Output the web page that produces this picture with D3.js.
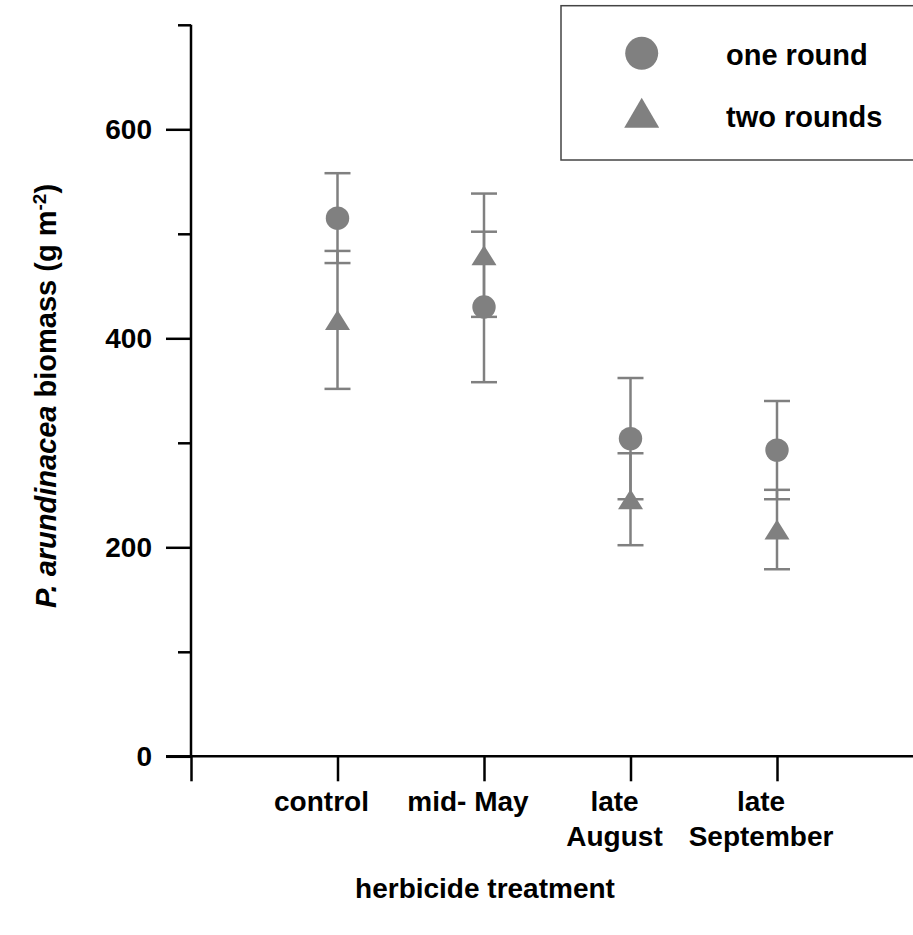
<!DOCTYPE html>
<html>
<head>
<meta charset="utf-8">
<script src="https://cdn.jsdelivr.net/npm/d3@7"></script>
<style>
  body { margin: 0; background: #fff; }
  text { font-family: "Liberation Sans", Arial, sans-serif; font-weight: bold; fill: #000; }
</style>
</head>
<body>
<div id="chart"></div>
<script>
// data
var categories = ["control", "mid- May", "late August", "late September"];
var labelLines = [["control"], ["mid- May"], ["late", "August"], ["late", "September"]];
var oneRound = [515, 430, 304, 293];
var oneRoundErr = [43, 72, 58, 47];
var twoRounds = [417.6, 479.5, 246, 217];
var twoRoundsErr = [66, 59, 44, 38];
var majorTicks = [0, 200, 400, 600];
var minorTicks = [100, 300, 500, 700];

var svgWidth = 913;
var svgHeight = 935;
var grey = "#808080";

var svg = d3.select("#chart")
    .append("svg")
    .attr("width", svgWidth)
    .attr("height", svgHeight);

var x = d3.scaleLinear().domain([0, 5]).range([191, 923.5]);
var y = d3.scaleLinear().domain([0, 700]).range([756.3, 24.8]);

// axes
var yAxis = svg.append("g")
    .attr("transform", "translate(" + x(0) + ",0)")
    .call(d3.axisLeft(y).tickValues(majorTicks).tickSize(25).tickPadding(14).tickFormat(d3.format("d")));
var yMinor = svg.append("g")
    .attr("transform", "translate(" + x(0) + ",0)")
    .call(d3.axisLeft(y).tickValues(minorTicks).tickSize(13).tickFormat(""));
var xAxis = svg.append("g")
    .attr("transform", "translate(0," + y(0) + ")")
    .call(d3.axisBottom(x).tickValues([0, 1, 2, 3, 4, 5]).tickSize(25).tickFormat(""));

[yAxis, yMinor, xAxis].forEach(function(g) {
    g.selectAll("path.domain").attr("stroke", "#000").attr("stroke-width", 2.5);
    g.selectAll(".tick line").attr("stroke", "#000").attr("stroke-width", 2.5);
});
yAxis.select("path.domain").remove();
yMinor.select("path.domain").attr("d", "M0," + y(700) + "V" + y(0));
xAxis.select("path.domain").attr("d", "M" + (x(0) - 25) + ",0H" + x(5));
yAxis.selectAll(".tick text")
    .style("font-family", "'Liberation Sans', Arial, sans-serif")
    .style("font-weight", "bold")
    .style("font-size", "28px")
    .attr("fill", "#000");

// category labels
var catLabels = svg.append("g").selectAll("text")
    .data(labelLines)
    .enter()
    .append("text")
    .attr("text-anchor", "middle")
    .style("font-size", "28px");
catLabels.each(function(lines, i) {
    var t = d3.select(this);
    lines.forEach(function(line, j) {
        t.append("tspan")
            .attr("x", x(i + 1) - 16)
            .attr("y", 811 + j * 35)
            .text(line);
    });
});

// axis titles
svg.append("text")
    .attr("x", 485)
    .attr("y", 898)
    .attr("text-anchor", "middle")
    .style("font-size", "28px")
    .text("herbicide treatment");

var yTitle = svg.append("text")
    .attr("transform", "translate(56,396) rotate(-90)")
    .attr("text-anchor", "middle")
    .style("font-size", "29px");
yTitle.append("tspan").style("font-style", "italic").text("P. arundinacea");
yTitle.append("tspan").text(" biomass (g m");
yTitle.append("tspan").attr("dy", -10).style("font-size", "19px").text("-2");
yTitle.append("tspan").attr("dy", 10).text(")");

// error bars
function drawErrors(vals, errs) {
    var g = svg.append("g").attr("stroke", grey).attr("stroke-width", 2.5);
    vals.forEach(function(v, i) {
        var cx = x(i + 1);
        g.append("line").attr("x1", cx).attr("x2", cx).attr("y1", y(v + errs[i])).attr("y2", y(v - errs[i]));
        [v + errs[i], v - errs[i]].forEach(function(e) {
            g.append("line").attr("x1", cx - 13).attr("x2", cx + 13).attr("y1", y(e)).attr("y2", y(e));
        });
    });
}
drawErrors(oneRound, oneRoundErr);
drawErrors(twoRounds, twoRoundsErr);

function trianglePath(cx, cy, w, h) {
    return "M" + cx + "," + (cy - h / 2) + "L" + (cx + w / 2) + "," + (cy + h / 2) + "L" + (cx - w / 2) + "," + (cy + h / 2) + "Z";
}

svg.append("g").selectAll("circle")
    .data(oneRound)
    .enter()
    .append("circle")
    .attr("cx", (d, i) => x(i + 1))
    .attr("cy", d => y(d))
    .attr("r", 11.7)
    .attr("fill", grey);

svg.append("g").selectAll("path")
    .data(twoRounds)
    .enter()
    .append("path")
    .attr("d", (d, i) => trianglePath(x(i + 1), y(d), 25, 20))
    .attr("fill", grey);

// legend
var legend = svg.append("g");
legend.append("rect")
    .attr("x", 561)
    .attr("y", 5.7)
    .attr("width", 400)
    .attr("height", 154.3)
    .attr("fill", "#fff")
    .attr("stroke", "#444")
    .attr("stroke-width", 1.5);
legend.append("circle").attr("cx", 641.7).attr("cy", 53.3).attr("r", 16.5).attr("fill", grey);
legend.append("path").attr("d", trianglePath(641.7, 112.7, 35, 30)).attr("fill", grey);
legend.append("text").attr("x", 726).attr("y", 65).style("font-size", "29px").text("one round");
legend.append("text").attr("x", 726).attr("y", 127).style("font-size", "29px").text("two rounds");
</script>
</body>
</html>
